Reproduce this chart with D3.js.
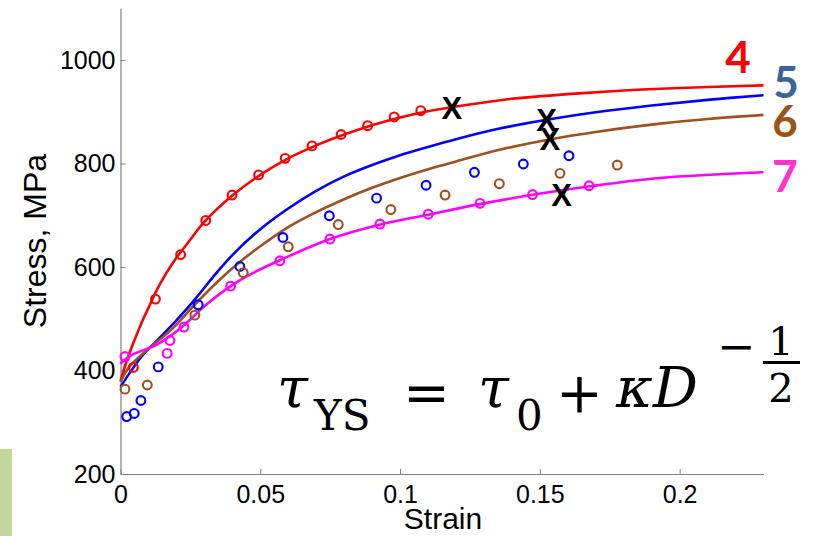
<!DOCTYPE html>
<html>
<head>
<meta charset="utf-8">
<script src="https://cdn.jsdelivr.net/npm/d3@7"></script>
<style>
  html, body { margin: 0; padding: 0; background: #fff; }
  svg { display: block; }
</style>
</head>
<body>
<svg id="chart" width="815" height="536"></svg>
<script>
// Axis ticks
const xTicks = [0, 0.05, 0.1, 0.15, 0.2];
const xTickLabels = ["0", "0.05", "0.1", "0.15", "0.2"];
const yTicks = [200, 400, 600, 800, 1000];
const yTickLabels = ["200", "400", "600", "800", "1000"];

// Series names
const seriesNames = ["4", "5", "6", "7"];

// Model curves: [strain, stress MPa]
const fit4 = [[0,380],[0.002,415],[0.004,445],[0.006,472],[0.008,498],[0.01,521],[0.014,566],[0.019,610],[0.025,653],[0.03,687],[0.04,738],[0.05,778],[0.06,810],[0.07,835],[0.08,856],[0.09,874],[0.1,889],[0.11,901],[0.12,910],[0.13,918],[0.14,925],[0.16,934],[0.18,941],[0.2,946],[0.23,951]];
const fit5 = [[0,368],[0.003,393],[0.008,430],[0.014,463],[0.02,497],[0.027,540],[0.033,580],[0.04,623],[0.05,673],[0.06,713],[0.07,747],[0.08,775],[0.09,797],[0.1,816],[0.11,832],[0.12,847],[0.136,868],[0.153,885],[0.17,899],[0.19,912],[0.21,923],[0.23,932]];
const fit6 = [[0,378],[0.003,406],[0.01,442],[0.018,478],[0.027,530],[0.035,573],[0.043,611],[0.05,640],[0.06,677],[0.07,706],[0.08,731],[0.09,753],[0.1,772],[0.11,789],[0.12,804],[0.136,827],[0.153,846],[0.17,861],[0.193,877],[0.21,886],[0.23,894]];
const fit7 = [[0,413],[0.004,430],[0.013,450],[0.022,484],[0.03,524],[0.0394,563],[0.048,590],[0.057,613],[0.075,654],[0.093,682],[0.11,701],[0.129,722],[0.148,740],[0.168,756],[0.193,772],[0.23,783]];

// Measured points: [strain, stress MPa]
const pts4 = [[0.0046,406],[0.0125,538],[0.0215,624],[0.0305,690],[0.0399,739],[0.0494,778],[0.0589,810],[0.0685,834],[0.0789,856],[0.0884,873],[0.0979,890],[0.1074,902]];
const pts5 = [[0.0022,311],[0.0049,317],[0.0073,342],[0.0135,407],[0.0278,527],[0.0427,601],[0.0581,657],[0.0747,699],[0.0916,733],[0.1093,758],[0.1266,783],[0.1441,799],[0.1604,815]];
const pts6 = [[0.0016,364],[0.0096,372],[0.0266,507],[0.0439,589],[0.06,639],[0.0779,682],[0.0967,711],[0.1161,739],[0.1355,761],[0.1572,781],[0.1777,797]];
const pts7 = [[0.0016,427],[0.0167,433],[0.0177,458],[0.0227,484],[0.0394,563],[0.057,612],[0.0749,654],[0.0928,683],[0.1101,702],[0.1286,723],[0.1474,740],[0.1676,757]];

// Failure markers on each curve: [strain, stress MPa]
const failures = [[0.1185,907],[0.1524,884],[0.1536,847],[0.1578,740]];

const lineColors = ["#ff0000", "#0000ff", "#a0501e", "#ff00ff"];
const labelColors = ["#ff0000", "#3a6497", "#9e5316", "#ff33cc"];

const svg = d3.select("#chart");

// side tab at the lower left
svg.append("rect").attr("x", 0).attr("y", 449).attr("width", 12).attr("height", 87).attr("fill", "#c4d79b");

const x = d3.scaleLinear().domain([0, 0.23]).range([120.5, 763.5]);
const y = d3.scaleLinear().domain([200, 1100]).range([474, 8.25]);

const axisColor = "#808080";
const tickFont = "'Liberation Sans', Arial, Helvetica, sans-serif";

const gx = svg.append("g").attr("transform", "translate(0,474)")
  .call(d3.axisBottom(x).tickValues(xTicks)
    .tickFormat((d, i) => xTickLabels[i])
    .tickSizeInner(-5).tickSizeOuter(0).tickPadding(11));
const gy = svg.append("g").attr("transform", "translate(120.5,0)")
  .call(d3.axisLeft(y).tickValues(yTicks)
    .tickFormat((d, i) => yTickLabels[i])
    .tickSizeInner(-5).tickSizeOuter(0).tickPadding(5));

[gx, gy].forEach(g => {
  g.select(".domain").attr("stroke", axisColor).attr("stroke-width", 1.2);
  g.selectAll(".tick line").attr("stroke", axisColor).attr("stroke-width", 1);
  g.selectAll(".tick text").attr("fill", "#000")
    .style("font-family", tickFont).style("font-size", "25px");
});

// axis titles
svg.append("text").attr("x", 443).attr("y", 529).attr("text-anchor", "middle")
  .style("font-family", tickFont).style("font-size", "30px")
  .text("Strain");
svg.append("text").attr("transform", "translate(46,241) rotate(-90)").attr("text-anchor", "middle")
  .style("font-family", tickFont).style("font-size", "32px")
  .text("Stress, MPa");

// curves
const line = d3.line().x(d => x(d[0])).y(d => y(d[1])).curve(d3.curveCatmullRom.alpha(0.5));
const fits = [fit4, fit5, fit6, fit7];
const pts = [pts4, pts5, pts6, pts7];

fits.forEach((f, i) => {
  svg.append("path").datum(f).attr("d", line)
    .attr("fill", "none").attr("stroke", lineColors[i]).attr("stroke-width", 2.6);
});

pts.forEach((p, i) => {
  svg.append("g").selectAll("circle").data(p).join("circle")
    .attr("cx", d => x(d[0])).attr("cy", d => y(d[1])).attr("r", 4.4)
    .attr("fill", "none").attr("stroke", lineColors[i]).attr("stroke-width", 2.1);
});

// failure crosses
svg.append("g").selectAll("text").data(failures).join("text")
  .attr("x", d => x(d[0])).attr("y", d => y(d[1])).attr("dy", "0.36em")
  .attr("text-anchor", "middle")
  .style("font-family", "'Liberation Sans', Arial, sans-serif")
  .style("font-weight", "bold").style("font-size", "31px")
  .attr("fill", "#000").text("X");

// series labels at the right ends
const labelPos = [[738, 73], [786, 98], [785, 137], [785, 192]];
svg.append("g").selectAll("text").data(seriesNames).join("text")
  .attr("x", (d, i) => labelPos[i][0]).attr("y", (d, i) => labelPos[i][1])
  .attr("text-anchor", "middle")
  .style("font-family", "Lato, 'Open Sans', sans-serif")
  .style("font-weight", "bold").style("font-size", "44px")
  .attr("fill", (d, i) => labelColors[i]).text(d => d);

// Hall-Petch relation
const serif = "'DejaVu Serif', 'Liberation Serif', serif";
const eq = svg.append("g").style("font-family", serif).attr("fill", "#000");
const piece = (txt, px, py, size, italic, anchor) =>
  eq.append("text").attr("x", px).attr("y", py).attr("text-anchor", anchor || "start")
    .style("font-size", size + "px").style("font-style", italic ? "italic" : "normal").text(txt);
piece("τ", 277, 407, 56, true);
piece("YS", 314, 430, 42, false);
piece("=", 403, 412, 56, false);
piece("τ", 478, 407, 56, true);
piece("0", 516, 430, 42, false);
piece("+", 556, 412, 56, false);
piece("κ", 616, 407, 56, true);
piece("D", 653, 407, 56, true);
piece("−", 717, 362, 46, false);
piece("1", 781, 355, 40, false, "middle");
piece("2", 781, 402, 40, false, "middle");
eq.append("rect").attr("x", 763).attr("y", 361).attr("width", 37).attr("height", 3);
</script>
</body>
</html>
